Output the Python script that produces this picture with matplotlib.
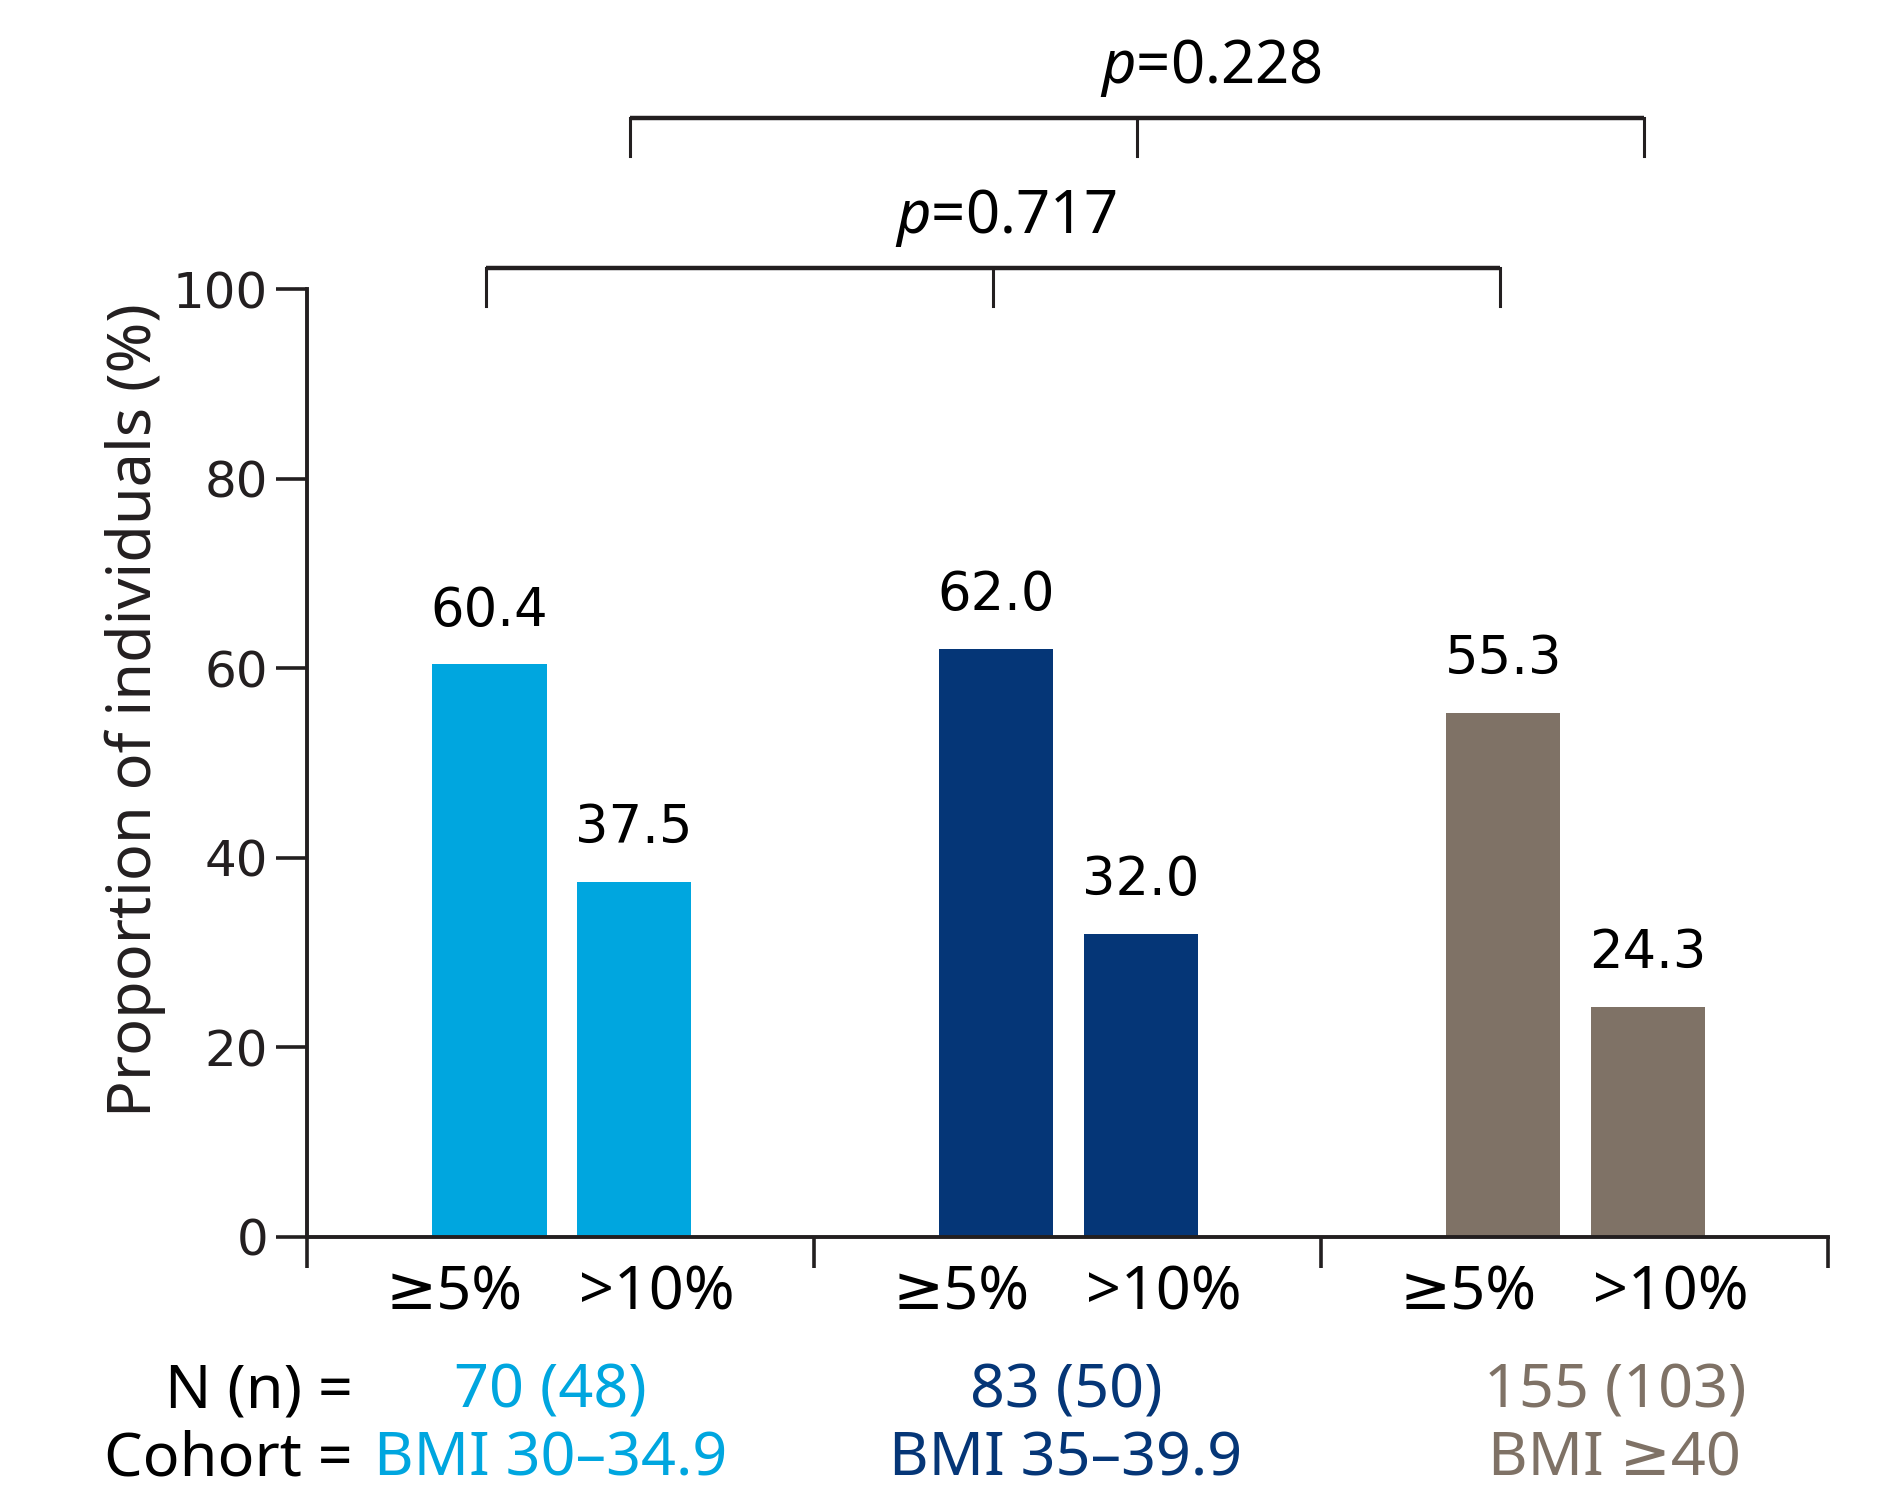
import numpy as np
import matplotlib as mpl
mpl.use('Agg')
import matplotlib.pyplot as plt

# data
cohorts = ['BMI 30\u201334.9', 'BMI 35\u201339.9', 'BMI \u226540']
n_labels = ['70 (48)', '83 (50)', '155 (103)']
thresholds = ['\u22655%', '>10%']
pct_5 = [60.4, 62.0, 55.3]
pct_10 = [37.5, 32.0, 24.3]
p_values = ['0.717', '0.228']
colors = ['#00A6DF', '#053677', '#7F7266']

txt = ['Noto Sans', 'DejaVu Sans']
num = 'DejaVu Sans'
ink = '#231F20'
fs = 44

mpl.rcParams['mathtext.fontset'] = 'custom'
mpl.rcParams['mathtext.it'] = 'Noto Sans:italic'

fig = plt.figure(figsize=(19.01, 14.90), dpi=100)
ax = fig.add_axes([0.1615, 0.1698, 0.80, 0.6362])

g = np.arange(3)
x5 = g + 0.36
x10 = g + 0.645
w = 0.225
ax.bar(x5, pct_5, width=w, color=colors)
ax.bar(x10, pct_10, width=w, color=colors)

for xs, vals in ((x5, pct_5), (x10, pct_10)):
    for x, v in zip(xs, vals):
        ax.annotate('{:.1f}'.format(v), (x, v), xytext=(0, 20), textcoords='offset points',
                    ha='center', va='bottom', fontsize=38, family=num, color='black')

ax.set_xlim(0, 3)
ax.set_ylim(0, 100)
ax.set_yticks(np.arange(0, 101, 20))
ax.set_yticklabels([str(t) for t in range(0, 101, 20)], fontsize=36, family=num, color=ink)
ax.set_xticks([0, 1, 2, 3])
ax.set_xticklabels([])
ax.tick_params(axis='both', direction='out', length=22, width=2.6, color=ink, pad=6)
for s in ['top', 'right']:
    ax.spines[s].set_visible(False)
for s in ['left', 'bottom']:
    ax.spines[s].set_linewidth(2.8)
    ax.spines[s].set_color(ink)

ax.set_ylabel('Proportion of individuals (%)', fontsize=fs, family=txt, color=ink)
ax.yaxis.set_label_coords(-0.093, 0.556)

# threshold labels under bars
for i in g:
    ax.text(x5[i] - 0.07, -6.0, thresholds[0], ha='center', va='center', fontsize=fs,
            family=txt, color='black', clip_on=False)
    ax.text(x10[i] + 0.045, -6.0, thresholds[1], ha='center', va='center', fontsize=fs,
            family=txt, color='black', clip_on=False)

# N and cohort rows
ax.text(0.09, -16.4, 'N (n) =', ha='right', va='center', fontsize=fs, family=txt, color='black', clip_on=False)
ax.text(0.09, -23.5, 'Cohort =', ha='right', va='center', fontsize=fs, family=txt, color='black', clip_on=False)
row_x = [0.48, 1.497, 2.58]
for i in g:
    ax.text(row_x[i], -16.4, n_labels[i], ha='center', va='center', fontsize=fs, family=txt,
            color=colors[i], clip_on=False)
    ax.text(row_x[i], -23.5, cohorts[i], ha='center', va='center', fontsize=fs, family=txt,
            color=colors[i], clip_on=False)

# significance brackets
def bracket(xs, y, drop, label, dx):
    ax.plot([xs[0], xs[-1]], [y, y], color=ink, lw=3.2, clip_on=False, solid_capstyle='butt')
    for x in xs:
        ax.plot([x, x], [y, y - drop], color=ink, lw=2.2, clip_on=False)
    ax.text(xs[1] + dx, y + 2.0, '$p$=' + label, ha='center', va='bottom', fontsize=43,
            family=txt, color='black', clip_on=False)

bracket(x5 - 0.007, 102.2, 4.0, p_values[0], 0.025)
bracket(x10 - 0.007, 118.0, 4.0, p_values[1], 0.145)

fig.savefig('out.png', dpi=100)
